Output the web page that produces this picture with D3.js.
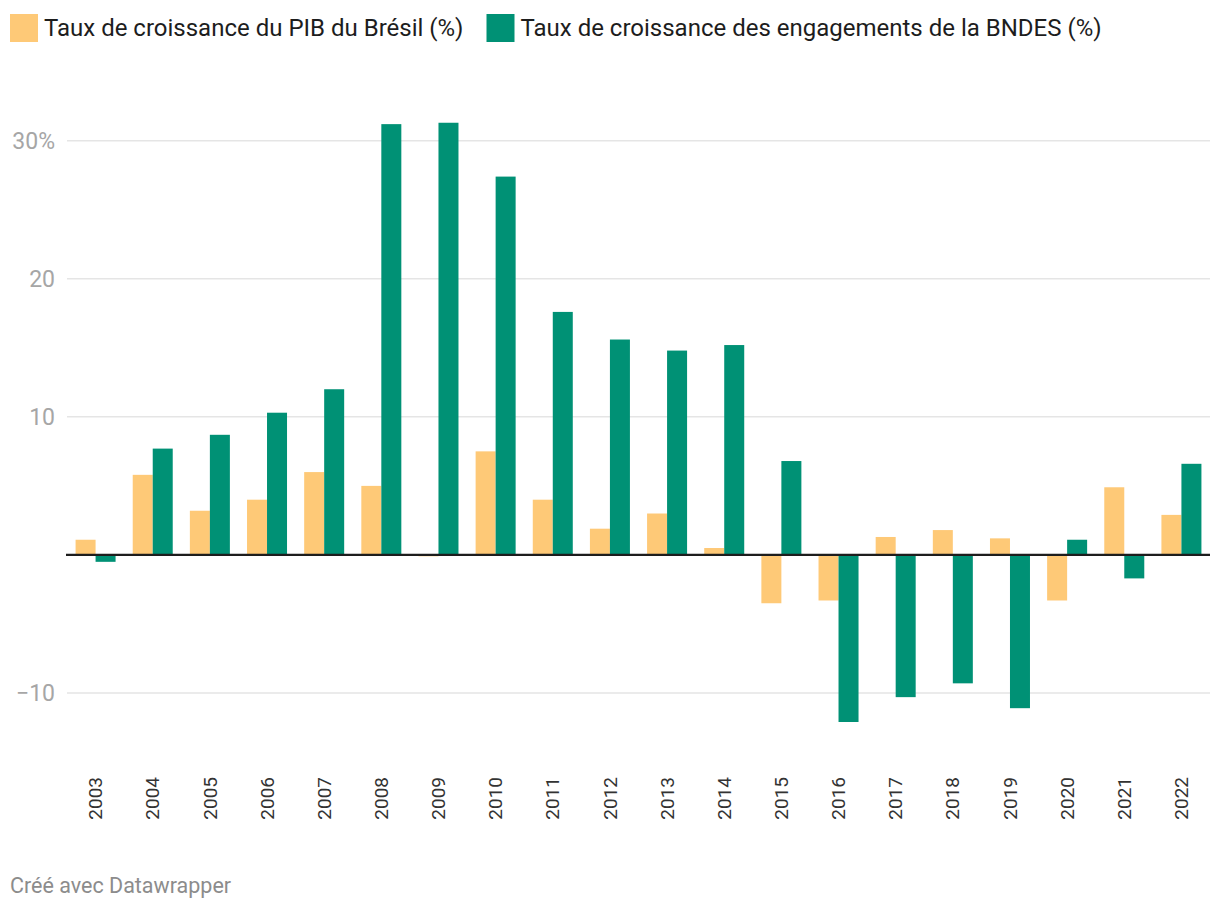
<!DOCTYPE html>
<html><head><meta charset="utf-8">
<script src="https://cdn.jsdelivr.net/npm/d3@7"></script>
<style>
html,body{margin:0;padding:0;background:#fff;}
svg{display:block;font-family:Roboto, "Noto Sans", sans-serif;}
</style></head>
<body>
<svg id="chart" width="1220" height="912"></svg>
<script>
const years = ["2003","2004","2005","2006","2007","2008","2009","2010","2011","2012","2013","2014","2015","2016","2017","2018","2019","2020","2021","2022"];
const pib = [1.1, 5.8, 3.2, 4.0, 6.0, 5.0, -0.1, 7.5, 4.0, 1.9, 3.0, 0.5, -3.5, -3.3, 1.3, 1.8, 1.2, -3.3, 4.9, 2.9];
const bndes = [-0.5, 7.7, 8.7, 10.3, 12.0, 31.2, 31.3, 27.4, 17.6, 15.6, 14.8, 15.2, 6.8, -12.1, -10.3, -9.3, -11.1, 1.1, -1.7, 6.6];
const seriesNames = ["Taux de croissance du PIB du Brésil (%)", "Taux de croissance des engagements de la BNDES (%)"];
const seriesColors = ["#fec977", "#009175"];
const yTicks = [-10, 10, 20, 30];
const footer = "Créé avec Datawrapper";

const svg = d3.select("#chart");
const left = 67, right = 1210;

const x0 = d3.scaleBand().domain(years).range([left, right]).paddingInner(0.3).paddingOuter(0.15);
const x1 = d3.scaleBand().domain([0,1]).range([0, x0.bandwidth()]);
const y = d3.scaleLinear().domain([-10, 30]).range([693, 140.7]);

// gridlines
const grid = svg.append("g");
grid.selectAll("line").data(yTicks).join("line")
  .attr("x1", left).attr("x2", right)
  .attr("y1", d => y(d)).attr("y2", d => y(d))
  .attr("stroke", "#e5e5e5").attr("stroke-width", 1.5);

// y labels
svg.append("g").selectAll("text").data(yTicks).join("text")
  .attr("x", 55).attr("y", d => y(d)).attr("dy", "0.36em")
  .attr("text-anchor", "end")
  .attr("font-size", 23).attr("fill", "#a6a6a6")
  .text(d => d === 30 ? "30%" : (d < 0 ? "\u2212" + Math.abs(d) : d));

// bars
const data = years.map((yr, i) => ({year: yr, vals: [pib[i], bndes[i]]}));
const groups = svg.append("g").selectAll("g").data(data).join("g")
  .attr("transform", d => `translate(${x0(d.year)},0)`);
groups.selectAll("rect").data(d => d.vals.map((v, k) => ({v, k}))).join("rect")
  .attr("x", d => x1(d.k))
  .attr("width", x1.bandwidth())
  .attr("y", d => Math.min(y(d.v), y(0)))
  .attr("height", d => Math.abs(y(d.v) - y(0)))
  .attr("fill", d => seriesColors[d.k]);

// baseline
svg.append("line").attr("x1", left - 1).attr("x2", right)
  .attr("y1", y(0)).attr("y2", y(0))
  .attr("stroke", "#1d1d1d").attr("stroke-width", 2.2);

// x labels
svg.append("g").selectAll("text").data(years).join("text")
  .attr("transform", d => `translate(${x0(d) + x0.bandwidth()/2},777) rotate(-90)`)
  .attr("dy", "0.35em")
  .attr("text-anchor", "end")
  .attr("font-size", 19).attr("fill", "#333")
  .text(d => d);

// legend
const legend = svg.append("g");
const legX = [10, 486.5];
seriesNames.forEach((name, i) => {
  legend.append("rect").attr("x", legX[i]).attr("y", 14).attr("width", 28).attr("height", 28).attr("fill", seriesColors[i]);
  legend.append("text").attr("x", legX[i] + 34).attr("y", 36)
    .attr("font-size", 24).attr("fill", "#1d1d1d").text(name);
});

// footer
svg.append("text").attr("x", 10).attr("y", 893).attr("font-size", 21.5).attr("fill", "#8c8c8c").text(footer);
</script>
</body></html>
